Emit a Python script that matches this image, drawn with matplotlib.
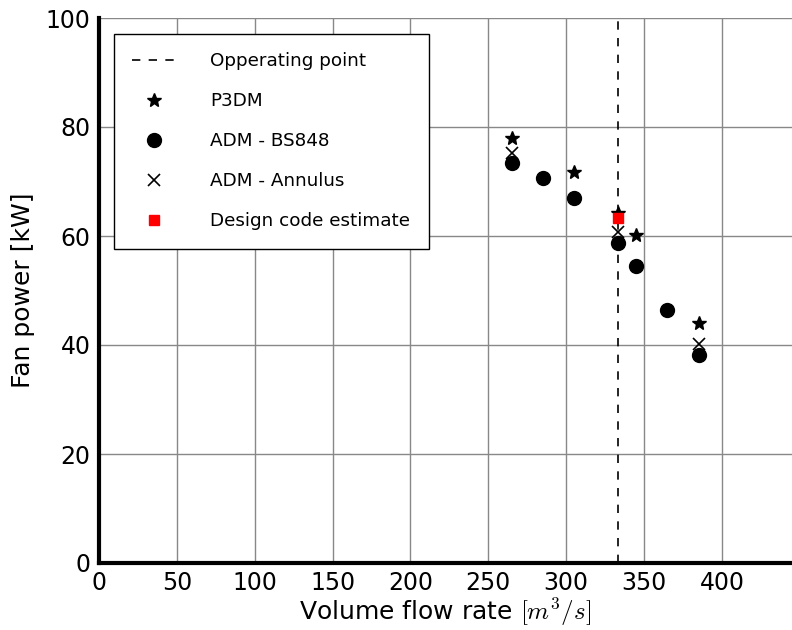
import matplotlib
matplotlib.use("Agg")
import matplotlib.pyplot as plt

plt.rcParams["mathtext.fontset"] = "cm"

# Data
op_point = 333
p3dm_x = [265, 305, 333, 345, 385]
p3dm_y = [78.0, 71.7, 64.3, 60.2, 44.0]
bs848_x = [265, 285, 305, 333, 345, 365, 385]
bs848_y = [73.4, 70.7, 66.9, 58.7, 54.5, 46.4, 38.1]
ann_x = [265, 333, 385]
ann_y = [75.3, 60.7, 40.1]
design_x = [333]
design_y = [63.3]
xticks = [0, 50, 100, 150, 200, 250, 300, 350, 400]
yticks = [0, 20, 40, 60, 80, 100]

fig = plt.figure(figsize=(7.92, 6.30), dpi=100)
ax = fig.add_axes([99/792, 1 - 563/630, 1 - 99/792, (563 - 18)/630])

ax.axvline(op_point, color="black", linestyle=(0, (5, 5)), linewidth=1.2, label="Opperating point", zorder=3)
ax.plot(p3dm_x, p3dm_y, linestyle="none", marker="*", color="black", markersize=10, label="P3DM", zorder=4)
ax.plot(bs848_x, bs848_y, linestyle="none", marker="o", color="black", markersize=10, label="ADM - BS848", zorder=4)
ax.plot(ann_x, ann_y, linestyle="none", marker="x", color="black", markersize=9, markeredgewidth=1.2, label="ADM - Annulus", zorder=4)
ax.plot(design_x, design_y, linestyle="none", marker="s", color="red", markeredgecolor="red", markersize=7, label="Design code estimate", zorder=5)

ax.set_xlim(0, 445)
ax.set_ylim(0, 100)
ax.set_xticks(xticks)
ax.set_yticks(yticks)
ax.grid(True, color="#888888", linewidth=1.0, linestyle="-")
ax.set_axisbelow(True)
for s in ["top", "right"]:
    ax.spines[s].set_visible(False)
for s in ["left", "bottom"]:
    ax.spines[s].set_linewidth(3)
ax.tick_params(axis="both", which="both", length=0, labelsize=17, pad=6)
ax.set_xlabel(r"Volume flow rate $[m^3/s]$", fontsize=18, labelpad=1)
ax.set_ylabel("Fan power [kW]", fontsize=18, labelpad=8)

leg = ax.legend(loc="upper left", bbox_to_anchor=(114/792, 1 - 34/630), bbox_transform=fig.transFigure,
                fontsize=13.2, frameon=True, fancybox=False, edgecolor="black", framealpha=1,
                labelspacing=1.2, handlelength=2.4, handletextpad=1.85, borderpad=1.0, borderaxespad=0,
                numpoints=1)
leg.get_frame().set_linewidth(1.0)

fig.savefig("out.png", dpi=100)
